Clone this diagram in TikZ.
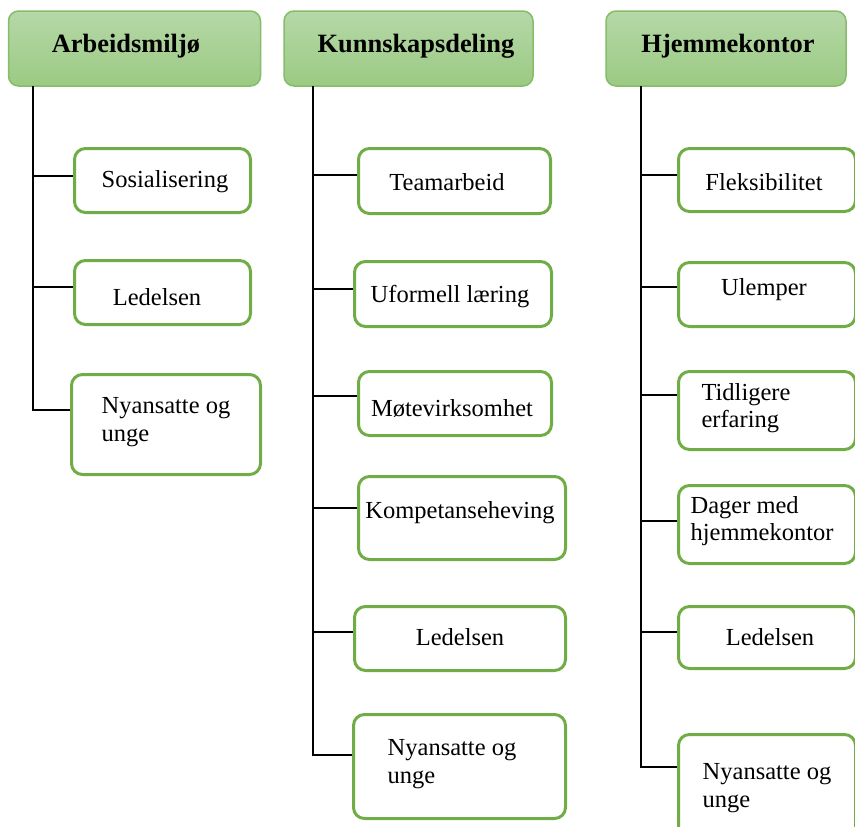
\documentclass[tikz,border=0pt]{standalone}
\usepackage{fontspec}
\setmainfont{Liberation Serif}
\definecolor{hdrtop}{HTML}{B6D8A8}
\definecolor{hdrbot}{HTML}{9BCA83}
\definecolor{hdrline}{HTML}{86BC6A}
\definecolor{itemline}{HTML}{70AD47}
\tikzset{
  hdr/.style={draw=hdrline, line width=1.5pt, rounded corners=10pt, top color=hdrtop, bottom color=hdrbot, inner sep=0pt},
  itembox/.style={draw=itemline, line width=3pt, rounded corners=11pt, fill=white, inner sep=0pt},
  hdrtext/.style={inner sep=0pt, font=\fontsize{26.4}{30}\selectfont\bfseries},
  itemtext/.style={inner sep=0pt, align=left, font=\fontsize{24.5}{27.5}\selectfont},
  conn/.style={draw=black, line width=2pt}
}
\begin{document}
\begin{tikzpicture}[x=1pt, y=-1pt]
\useasboundingbox (0,0) rectangle (855,827);
\clip (0,0) rectangle (855,827);
% headers
\node[hdr, minimum width=252pt, minimum height=75pt] (a) at (134.5,48.5) {};
\node[hdr, minimum width=249pt, minimum height=75pt] (b) at (408.5,48.5) {};
\node[hdr, minimum width=240pt, minimum height=75pt] (c) at (726,48.5) {};
\node[hdrtext] (at) at (126,46) {Arbeidsmiljø};
\node[hdrtext] (bt) at (416,46) {Kunnskapsdeling};
\node[hdrtext] (ct) at (728,46) {Hjemmekontor};
% spines
\coordinate (sa) at (33,86);
\coordinate (sb) at (313,86);
\coordinate (sc) at (641,86);
% column 1
\node[itembox, minimum width=176pt, minimum height=64pt] (s1) at (162.5,180.5) {};
\node[itembox, minimum width=176pt, minimum height=64pt] (s2) at (162.5,292.5) {};
\node[itembox, minimum width=189pt, minimum height=100pt] (s3) at (166,424.5) {};
\node[itemtext] (s1t) at (165,182) {Sosialisering};
\node[itemtext] (s2t) at (157,297) {Ledelsen};
\node[itemtext] (s3t) at (166,422) {Nyansatte og\\unge};
% column 2
\node[itembox, minimum width=192pt, minimum height=65pt] (k1) at (454.5,181) {};
\node[itembox, minimum width=197pt, minimum height=65pt] (k2) at (453,294) {};
\node[itembox, minimum width=193pt, minimum height=64pt] (k3) at (455,403.5) {};
\node[itembox, minimum width=207pt, minimum height=83pt] (k4) at (462,518) {};
\node[itembox, minimum width=211pt, minimum height=64pt] (k5) at (460,638.5) {};
\node[itembox, minimum width=212pt, minimum height=104pt] (k6) at (459.5,766.5) {};
\node[itemtext] (k1t) at (447,182) {Teamarbeid};
\node[itemtext] (k2t) at (450,297) {Uformell læring};
\node[itemtext] (k3t) at (452,408) {Møtevirksomhet};
\node[itemtext] (k4t) at (460,513) {Kompetanseheving};
\node[itemtext] (k5t) at (460,637) {Ledelsen};
\node[itemtext] (k6t) at (452,764) {Nyansatte og\\unge};
% column 3
\node[itembox, minimum width=177pt, minimum height=63pt] (h1) at (767,180) {};
\node[itembox, minimum width=177pt, minimum height=64pt] (h2) at (767,294.5) {};
\node[itembox, minimum width=177pt, minimum height=78pt] (h3) at (767,410.5) {};
\node[itembox, minimum width=177pt, minimum height=78pt] (h4) at (767,524.5) {};
\node[itembox, minimum width=177pt, minimum height=62pt] (h5) at (767,637.5) {};
\node[itembox, minimum width=177pt, minimum height=104pt] (h6) at (767,786.5) {};
\node[itemtext] (h1t) at (764,182) {Fleksibilitet};
\node[itemtext] (h2t) at (764,290) {Ulemper};
\node[itemtext] (h3t) at (746,408) {Tidligere\\erfaring};
\node[itemtext] (h4t) at (762,521) {Dager med\\hjemmekontor};
\node[itemtext] (h5t) at (770,637) {Ledelsen};
\node[itemtext] (h6t) at (767,788) {Nyansatte og\\unge};
% connectors
\draw[conn] (sa) |- ([yshift=4.5pt]s1.west);
\draw[conn] (sa) |- ([yshift=5.5pt]s2.west);
\draw[conn] (sa) |- ([yshift=14.5pt]s3.west);
\draw[conn] (sb) |- ([yshift=6pt]k1.west);
\draw[conn] (sb) |- ([yshift=5pt]k2.west);
\draw[conn] (sb) |- ([yshift=7.5pt]k3.west);
\draw[conn] (sb) |- ([yshift=10pt]k4.west);
\draw[conn] (sb) |- ([yshift=6.5pt]k5.west);
\draw[conn] (sb) |- ([yshift=11.5pt]k6.west);
\draw[conn] (sc) |- ([yshift=5pt]h1.west);
\draw[conn] (sc) |- ([yshift=7.5pt]h2.west);
\draw[conn] (sc) |- ([yshift=15.5pt]h3.west);
\draw[conn] (sc) |- ([yshift=3.5pt]h4.west);
\draw[conn] (sc) |- ([yshift=5.5pt]h5.west);
\draw[conn] (sc) |- ([yshift=19.5pt]h6.west);
\end{tikzpicture}
\end{document}
